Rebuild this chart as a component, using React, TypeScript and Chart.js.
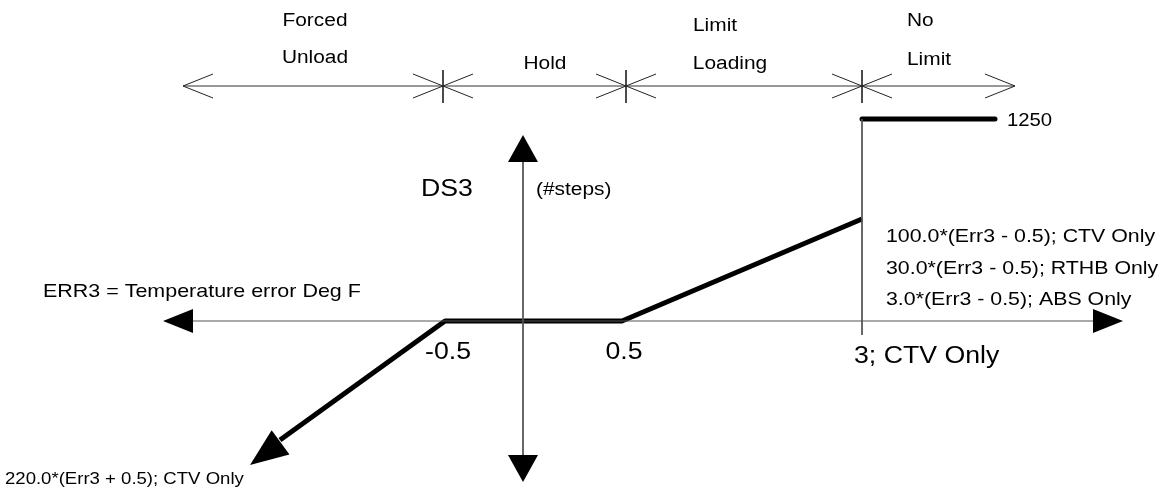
import React, { useEffect, useRef } from 'react';
import { Chart, registerables } from 'chart.js';

Chart.register(...registerables);

const W = 1164;
const H = 493;

// Schematic diagram units (x: ERR3 schematic position, y: DS3 schematic position, downwards)
const curveX = [280, 445, 622, 862];
const curveY = [440, 321, 321, 219];
const limitX = [862, 995];
const limitY = [119, 119];
const axisX = [193, 1093];
const axisY = [321, 321];
const vAxisX = [523, 523];
const vAxisY = [162, 455];
const ctvLineX = [862, 862];
const ctvLineY = [119, 335];
const dimLineX = [183, 1015];
const dimLineY = [86, 86];
const dividerX = [443, 626, 862];
const dividerY = [70, 103];

// filled arrowheads: tip, direction source point, length, half width
const arrowTipX = [163, 1123, 523, 523, 250];
const arrowTipY = [321, 321, 135, 482, 465];
const arrowFromX = [193, 1093, 523, 523, 445];
const arrowFromY = [321, 321, 162, 455, 321];
const arrowLen = [30, 30, 27, 27, 38];
const arrowHalf = [12, 12, 15, 15, 15];

// open chevrons on the dimension line: tip x, pointing direction
const chevronX = [183, 443, 443, 626, 626, 862, 862, 1015];
const chevronDir = [-1, 1, -1, 1, -1, 1, -1, 1];

// labels
const labelText = [
  'Forced', 'Unload', 'Hold', 'Limit', 'Loading', 'No', 'Limit',
  'ERR3 = Temperature error Deg F', 'DS3', '(#steps)', '1250',
  '100.0*(Err3 - 0.5); CTV Only', '30.0*(Err3 - 0.5); RTHB Only', '3.0*(Err3 - 0.5); ABS Only',
  '-0.5', '0.5', '3; CTV Only', '220.0*(Err3 + 0.5); CTV Only',
];
const labelX = [315, 315, 545, 693, 730, 907, 907, 43, 447, 536, 1007, 886, 886, 886, 448, 624, 854, 5];
const labelY = [21, 58, 64, 26, 64, 21, 60, 292, 190, 190, 121, 237, 269, 300, 353, 353, 357, 480];
const labelAlign = ['center', 'center', 'center', 'left', 'center', 'left', 'left', 'left', 'center', 'left', 'left', 'left', 'left', 'left', 'center', 'center', 'left', 'left'];
const labelSize = [18, 18, 18, 18, 18, 18, 18, 18.5, 23, 18, 17.5, 18.4, 18.4, 18.4, 23, 23, 23, 16];

const FONT = "'Liberation Sans', Arial, sans-serif";
const THIN = '#555555';

function pts(xs: number[], ys: number[]) {
  return xs.map((x, i) => ({ x, y: ys[i] }));
}

const diagramPlugin = {
  id: 'diagram',
  afterDatasetsDraw(chart: any) {
    const { ctx, scales } = chart;
    const sx = scales.x;
    const sy = scales.y;
    const px = (v: number) => sx.getPixelForValue(v);
    const py = (v: number) => sy.getPixelForValue(v);
    ctx.save();
    // filled arrowheads
    ctx.fillStyle = '#000';
    arrowTipX.forEach((tx, i) => {
      const tX = px(tx), tY = py(arrowTipY[i]);
      const fX = px(arrowFromX[i]), fY = py(arrowFromY[i]);
      let dx = fX - tX, dy = fY - tY;
      const d = Math.hypot(dx, dy);
      dx /= d; dy /= d;
      const bx = tX + dx * arrowLen[i], by = tY + dy * arrowLen[i];
      const nx = -dy * arrowHalf[i], ny = dx * arrowHalf[i];
      ctx.beginPath();
      ctx.moveTo(tX, tY);
      ctx.lineTo(bx + nx, by + ny);
      ctx.lineTo(bx - nx, by - ny);
      ctx.closePath();
      ctx.fill();
    });
    // chevrons
    ctx.strokeStyle = '#222';
    ctx.lineWidth = 1;
    const cy = py(dimLineY[0]);
    chevronX.forEach((cx, i) => {
      const x = px(cx);
      const back = px(cx - chevronDir[i] * 30) - x;
      const arm = py(dimLineY[0] - 12) - cy;
      ctx.beginPath();
      ctx.moveTo(x + back, cy + arm);
      ctx.lineTo(x, cy);
      ctx.lineTo(x + back, cy - arm);
      ctx.stroke();
    });
    // labels
    ctx.fillStyle = '#000';
    ctx.textBaseline = 'middle';
    labelText.forEach((t, i) => {
      ctx.save();
      ctx.translate(px(labelX[i]), py(labelY[i]));
      ctx.scale(1.16, 1);
      ctx.font = `${labelSize[i]}px ${FONT}`;
      ctx.textAlign = labelAlign[i];
      ctx.fillText(t, 0, 0);
      ctx.restore();
    });
    ctx.restore();
  },
};

export default function App() {
  const ref = useRef<HTMLCanvasElement>(null);
  useEffect(() => {
    if (!ref.current) return;
    const thin = (data: any[], color = THIN) => ({
      type: 'line', data, borderColor: color, borderWidth: 1, pointRadius: 0, showLine: true, fill: false,
    });
    const datasets: any[] = [
      thin(pts(dimLineX, dimLineY), '#333'),
      ...dividerX.map((x) => thin(pts([x, x], dividerY), '#333')),
      thin(pts(axisX, axisY)),
      thin(pts(vAxisX, vAxisY)),
      thin(pts(ctvLineX, ctvLineY)),
      {
        type: 'line', data: pts(curveX, curveY), borderColor: '#000', borderWidth: 5,
        pointRadius: 0, showLine: true, fill: false, borderJoinStyle: 'round', borderCapStyle: 'butt',
      },
      {
        type: 'line', data: pts(limitX, limitY), borderColor: '#000', borderWidth: 5,
        pointRadius: 0, showLine: true, fill: false, borderCapStyle: 'round',
      },
    ];
    const chart = new Chart(ref.current, {
      type: 'scatter',
      data: { datasets },
      options: {
        animation: false,
        responsive: false,
        maintainAspectRatio: false,
        layout: { padding: 0 },
        plugins: { legend: { display: false }, tooltip: { enabled: false } },
        scales: {
          x: { type: 'linear', min: 0, max: W, display: false },
          y: { type: 'linear', min: 0, max: H, reverse: true, display: false },
        },
      },
      plugins: [diagramPlugin],
    } as any);
    return () => chart.destroy();
  }, []);
  return (
    <div style={{ position: 'fixed', left: 0, top: 0, width: W, height: H, background: '#fff' }}>
      <canvas ref={ref} width={W} height={H} style={{ width: W, height: H, display: 'block' }} />
    </div>
  );
}
